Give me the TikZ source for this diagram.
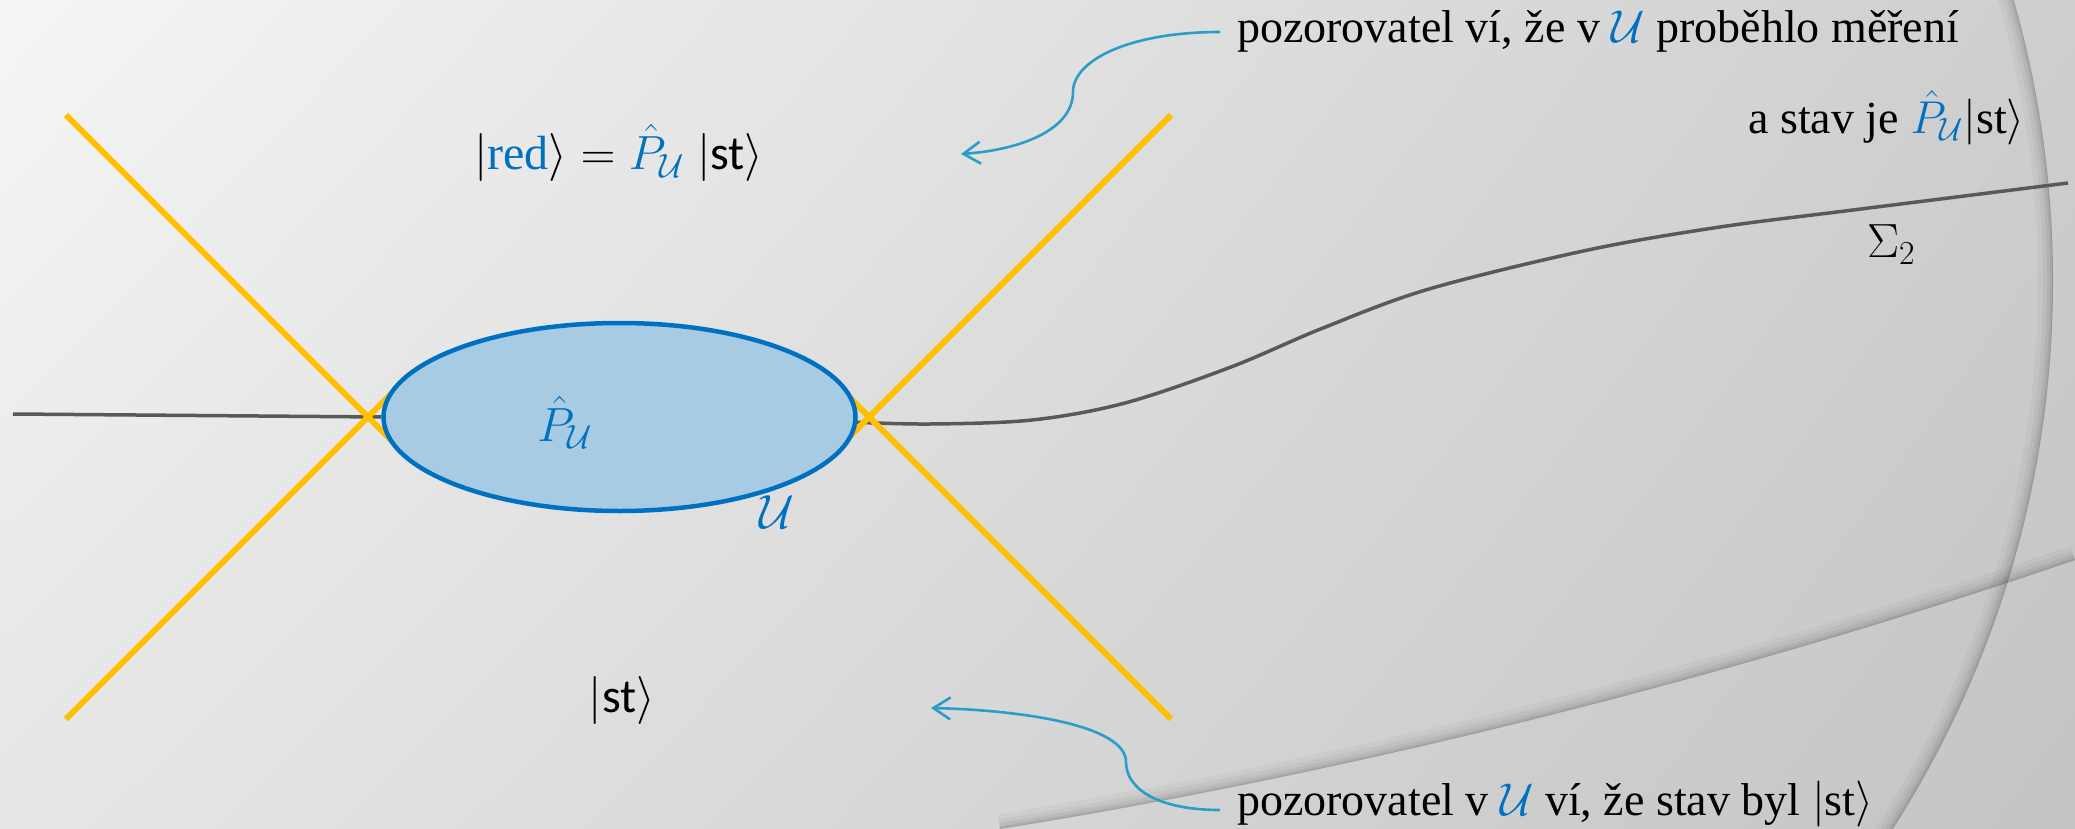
\RequirePackage{fix-cm}
\documentclass[tikz,border=0pt]{standalone}
\usepackage{amsmath}
\usepackage[no-math]{fontspec}
\setmainfont{Liberation Serif}
\newfontfamily\calfont{Carlito}
\usetikzlibrary{arrows.meta,shapes.geometric,shadings}
\pgfdeclarelayer{back}
\pgfsetlayers{back,main}
\definecolor{bgTL}{RGB}{245,245,245}
\definecolor{bgTR}{RGB}{206,206,206}
\definecolor{bgBL}{RGB}{230,230,230}
\definecolor{bgBR}{RGB}{196,196,196}
\definecolor{uBlue}{RGB}{0,112,192}
\definecolor{uFill}{RGB}{168,203,228}
\definecolor{coneYellow}{RGB}{255,192,0}
\definecolor{lineGray}{RGB}{89,89,89}
\definecolor{arrBlue}{RGB}{42,157,200}
\newcommand{\kst}{\text{\calfont st}}
\tikzset{
  cone/.style={draw=coneYellow, line width=6pt},
  world/.style={draw=lineGray, line width=3.5pt},
  region/.style={ellipse, draw=uBlue, fill=uFill, line width=4.5pt,
    minimum width=472pt, minimum height=188pt, inner sep=0pt},
  note/.style={font=\fontsize{46}{56}\selectfont, inner sep=0pt},
  mathlbl/.style={font=\fontsize{48}{56}\selectfont, inner sep=0pt},
  callout/.style={draw=arrBlue, line width=2.6pt,
    -{Straight Barb[length=17pt,width=22pt]}},
}
\begin{document}
\begin{tikzpicture}[x=1pt,y=-1pt]
\useasboundingbox (0,0) rectangle (2075,829);
% region U
\node[region] (U) at (619.5,417) {};
\begin{pgfonlayer}{back}
  \shade[upper left=bgTL, upper right=bgTR, lower left=bgBL, lower right=bgBR]
    (0,0) rectangle (2075,829);
  % decorative circle arc (right edge) with inner shadow
  \begin{scope}
    \clip (1780,0) rectangle (2075,829);
    \clip (1037,281) circle[radius=1016pt];
    \foreach \w/\o in {30/0.03,20/0.04,12/0.05,6/0.06,2/0.08}
      \draw[line width=\w pt, black, opacity=\o] (1037,281) circle[radius=1016pt];
  \end{scope}
  % decorative lower arc with shadow above
  \begin{scope}
    \clip (1000,829) .. controls (1380,768) and (1760,668) .. (2075,560)
      -- (2075,0) -- (0,0) -- (0,829) -- cycle;
    \foreach \w/\o in {30/0.03,20/0.04,12/0.05,6/0.06,2/0.08}
      \draw[line width=\w pt, black, opacity=\o]
        (1000,829) .. controls (1380,768) and (1760,668) .. (2075,560);
  \end{scope}
  % world lines
  \coordinate (wl) at (13,414);
  \draw[world] (wl) -- (U.west);
  \draw[world] plot[smooth, tension=0.55] coordinates {(850,422) (930,424) (1032,420)
    (1125,403) (1231,367) (1323,328) (1429,289) (1588,250) (1720,227) (1853,210) (2068,183)};
  % light cones
  \draw[cone] (66,115) -- (401,450);
  \draw[cone] (66,719) -- (401,384);
  \draw[cone] (1171,115) -- (836,450);
  \draw[cone] (1171,719) -- (836,384);
\end{pgfonlayer}
% labels
\node[mathlbl, text=uBlue] (PU) at (565,422) {$\hat{P}_{\mathcal{U}}$};
\node[mathlbl, text=uBlue] (Ulbl) at (777,512) {$\mathcal{U}$};
\node[mathlbl, anchor=base] (red) at (619,170)
  {$|\textcolor{uBlue}{\text{red}}\rangle = \textcolor{uBlue}{\hat{P}_{\mathcal{U}}}\;|\kst\rangle$};
\node[mathlbl, anchor=base] (st) at (622,712) {$|\kst\rangle$};
\node[mathlbl] (sig) at (1891,245) {$\Sigma_2$};
\node[note, anchor=base west] (t1) at (1237,43)
  {pozorovatel ví, že v \textcolor{uBlue}{$\mathcal{U}$} proběhlo měření};
\node[note, anchor=base east] (t1b) at (2025,134)
  {a stav je \textcolor{uBlue}{$\hat{P}_{\mathcal{U}}$}$|$st$\rangle$};
\node[note, anchor=base west] (t2) at (1237,815)
  {pozorovatel v \textcolor{uBlue}{$\mathcal{U}$} ví, že stav byl $|$st$\rangle$};
% callouts
\coordinate (a1) at (961,154);
\draw[callout] ([xshift=-17pt,yshift=11pt]t1.base west)
  .. controls (1130,32) and (1073,60) .. (1073,92)
  .. controls (1073,130) and (1020,150) .. (a1);
\coordinate (a2) at (931,708);
\draw[callout] ([xshift=-17pt,yshift=5pt]t2.base west)
  .. controls (1160,810) and (1126,790) .. (1126,762)
  .. controls (1126,725) and (1020,710) .. (a2);
\end{tikzpicture}
\end{document}
